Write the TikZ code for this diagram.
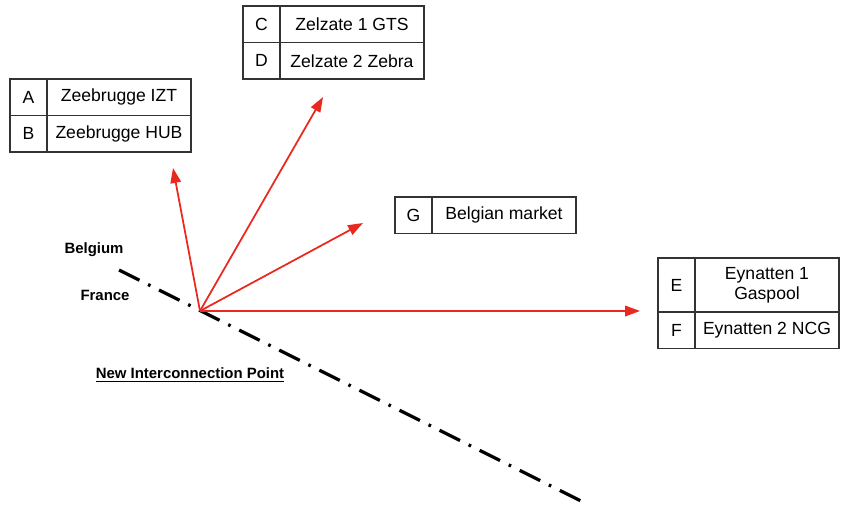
\documentclass[tikz,border=0pt]{standalone}
\usepackage{fontspec}
\setmainfont{Liberation Sans}
\usetikzlibrary{positioning,arrows.meta}
\definecolor{flowred}{RGB}{235,40,30}
\tikzset{>={Triangle[length=8.5pt,width=6pt]}}
\tikzset{
  letter/.style={draw=black!80, line width=0.9pt, minimum width=0.74cm, minimum height=0.73cm,
    inner sep=0pt, outer sep=0pt, align=center, font=\fontsize{10}{11.5}\selectfont},
  point/.style={letter, minimum width=2.88cm},
  country/.style={font=\fontsize{8.5}{10}\selectfont\bfseries},
  frontier/.style={line width=1.8pt, dash pattern=on 13pt off 5.5pt on 1.5pt off 5.5pt}
}

\begin{document}
\begin{tikzpicture}[x=0.02cm, y=-0.02cm, node distance=0pt]
        \useasboundingbox (0,0) rectangle (846,512);

        % entry points
        \node[letter, anchor=north west] (A) at (10,79) {A};
        \node[point] (Aname) [right=of A] {Zeebrugge IZT};
        \node[letter] (B) [below=of A] {B};
        \node[point] (Bname) [right=of B] {Zeebrugge HUB};

        \node[letter, anchor=north west] (C) at (243,6) {C};
        \node[point] (Cname) [right=of C] {Zelzate 1 GTS};
        \node[letter] (D) [below=of C] {D};
        \node[point] (Dname) [right=of D] {Zelzate 2 Zebra};

        \node[letter, anchor=north west] (G) at (395,197) {G};
        \node[point] (Gname) [right=of G] {Belgian market};

        \node[letter, anchor=north west, minimum height=1.08cm] (E) at (658,258) {E};
        \node[point, minimum height=1.08cm] (Ename) [right=of E] {Eynatten 1\\Gaspool};
        \node[letter] (F) [below=of E] {F};
        \node[point] (Fname) [right=of F] {Eynatten 2 NCG};

        % border line
        \coordinate (bstart) at (119,270);
        \coordinate (bend) at (585,503);
        \draw[frontier] (bstart) -- (bend);

        \node[country] (be) at (94,250) {Belgium};
        \node[country] (fr) at (105,295) {France};
        \node[country] (niplabel) at (190,375) {\underline{New Interconnection Point}};

        % flows from the interconnection point
        \coordinate (nip) at (200,311);
        \coordinate (toAB) at (173,168);
        \coordinate (toCD) at (323,97);
        \coordinate (toG) at (363,223);
        \coordinate (toEF) at (640,311);

        \path[color=flowred, line width=1pt]
        (nip) edge[->] (toAB)
        (nip) edge[->] (toCD)
        (nip) edge[->] (toG)
        (nip) edge[->] (toEF);
      \end{tikzpicture}
\end{document}
